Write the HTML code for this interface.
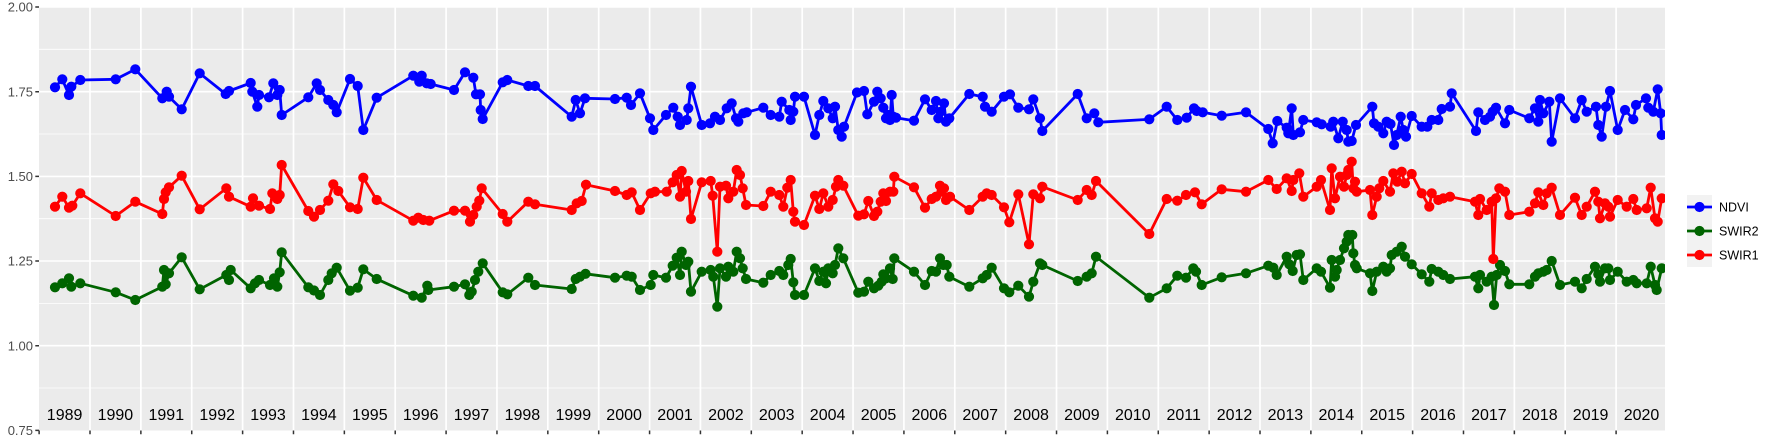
<!DOCTYPE html>
<html><head><meta charset="utf-8">
<style>
html,body{margin:0;padding:0;background:#fff;}
svg{display:block;}
text{font-family:"Liberation Sans",Arial,sans-serif;}
</style></head>
<body>
<svg width="1773" height="442" viewBox="0 0 1773 442" xmlns="http://www.w3.org/2000/svg">
<defs>
<clipPath id="pc"><rect x="39" y="6.5" width="1626" height="424"/></clipPath>
<marker id="mb" markerUnits="userSpaceOnUse" markerWidth="12" markerHeight="12" refX="6" refY="6" viewBox="0 0 12 12"><circle cx="6" cy="6" r="5.1" fill="#0000FF"/></marker>
<marker id="mr" markerUnits="userSpaceOnUse" markerWidth="12" markerHeight="12" refX="6" refY="6" viewBox="0 0 12 12"><circle cx="6" cy="6" r="5.1" fill="#FF0000"/></marker>
<marker id="mg" markerUnits="userSpaceOnUse" markerWidth="12" markerHeight="12" refX="6" refY="6" viewBox="0 0 12 12"><circle cx="6" cy="6" r="5.1" fill="#006400"/></marker>
</defs>
<rect x="0" y="0" width="1773" height="442" fill="#fff"/>
<rect x="39" y="6.5" width="1626" height="424" fill="#EBEBEB"/>
<!-- minor horizontal -->
<path d="M39 49.3H1665M39 134H1665M39 218.7H1665M39 303.4H1665M39 388H1665" stroke="#fff" stroke-width="0.8" fill="none"/>
<!-- major horizontal -->
<path d="M39 7H1665M39 91.7H1665M39 176.4H1665M39 261H1665M39 345.7H1665" stroke="#fff" stroke-width="1.6" fill="none"/>
<!-- vertical -->
<path d="M90 6.5V430.5M140.87 6.5V430.5M191.74 6.5V430.5M242.61 6.5V430.5M293.48 6.5V430.5M344.35 6.5V430.5M395.22 6.5V430.5M446.09 6.5V430.5M496.96 6.5V430.5M547.83 6.5V430.5M598.7 6.5V430.5M649.57 6.5V430.5M700.44 6.5V430.5M751.31 6.5V430.5M802.18 6.5V430.5M853.05 6.5V430.5M903.92 6.5V430.5M954.79 6.5V430.5M1005.66 6.5V430.5M1056.53 6.5V430.5M1107.4 6.5V430.5M1158.27 6.5V430.5M1209.14 6.5V430.5M1260.01 6.5V430.5M1310.88 6.5V430.5M1361.75 6.5V430.5M1412.62 6.5V430.5M1463.49 6.5V430.5M1514.36 6.5V430.5M1565.23 6.5V430.5M1616.1 6.5V430.5" stroke="#fff" stroke-width="1.7" fill="none"/>

<g clip-path="url(#pc)">
<g fill="none" stroke-width="2.8" stroke-linejoin="round" stroke-linecap="butt">
<polyline id="pb" stroke="#0000FF" points="55.0,87.3 62.3,79.3 69.0,95.0 71.3,86.7 80.3,80.0 115.7,79.3 135.3,69.3 162.3,98.3 166.7,91.7 169.0,96.7 181.7,109.3 199.7,73.3 225.7,94.0 229.0,91.0 250.7,83.0 252.3,91.7 257.3,106.7 259.0,95.0 269.0,97.3 273.3,83.3 277.3,95.0 279.7,90.0 281.7,115.0 308.3,97.3 316.7,83.3 320.0,90.0 328.3,100.0 333.3,105.0 336.7,112.3 350.0,79.0 357.7,86.0 363.3,130.0 376.7,97.7 413.3,75.7 419.3,81.7 421.7,75.7 426.7,83.3 430.7,84.0 454.0,90.0 465.0,72.3 473.3,77.7 476.0,94.3 480.0,94.3 480.7,110.0 482.7,119.0 502.7,82.3 507.3,80.0 528.3,86.0 535.0,86.0 571.7,116.7 575.7,100.0 580.0,113.3 585.0,98.3 615.0,99.0 626.7,97.7 631.0,105.0 640.0,93.3 650.0,118.3 653.3,130.0 666.0,115.0 673.3,107.7 677.7,116.7 680.0,125.0 686.7,120.0 688.3,108.3 691.0,86.7 701.7,125.0 710.0,123.3 715.0,116.7 720.0,120.0 726.7,108.3 731.7,103.3 736.0,118.3 738.3,121.7 743.3,113.3 746.7,112.3 763.3,107.7 770.7,115.0 779.3,116.7 781.7,101.7 789.3,110.0 790.7,120.0 793.3,111.7 795.0,96.7 804.0,96.7 815.0,135.0 819.3,115.0 823.3,101.0 828.3,108.3 832.7,118.3 835.0,106.7 838.3,130.0 841.7,136.7 844.0,126.7 857.0,92.5 864.0,91.0 867.3,114.3 874.0,101.7 877.3,91.7 880.7,98.3 883.3,107.7 886.0,118.3 888.3,115.0 890.0,120.0 891.7,95.0 893.3,116.7 896.0,117.7 914.0,120.7 925.0,99.3 931.7,110.0 936.0,101.0 938.3,118.3 940.7,111.7 944.0,103.3 946.0,121.7 949.3,118.3 969.3,94.0 982.7,96.7 985.0,106.7 991.7,111.7 1004.0,96.7 1010.0,94.3 1018.3,107.7 1029.0,109.3 1033.3,99.3 1040.0,118.3 1042.3,131.0 1077.7,94.0 1086.7,118.3 1094.3,113.3 1098.3,122.3 1149.3,119.3 1166.7,106.7 1177.3,120.0 1186.7,117.7 1194.0,108.3 1196.7,111.0 1202.7,112.3 1221.7,115.7 1246.0,112.3 1268.3,129.0 1272.7,143.3 1277.3,121.0 1286.7,127.7 1288.3,133.3 1291.7,108.3 1293.3,135.0 1300.0,132.3 1303.3,120.0 1316.7,122.3 1321.7,124.3 1330.7,126.7 1333.3,121.7 1338.3,138.3 1342.7,121.7 1346.7,130.0 1348.3,141.7 1351.7,141.0 1356.0,125.0 1372.3,106.7 1374.0,123.3 1378.3,126.7 1383.3,133.3 1386.7,121.7 1390.5,124.0 1394.0,145.0 1396.7,135.0 1400.7,116.7 1403.3,130.0 1406.0,136.7 1411.7,116.0 1421.7,126.7 1427.3,126.7 1431.7,120.0 1438.3,120.0 1441.7,109.0 1450.0,106.7 1451.7,93.3 1476.0,131.0 1478.3,112.3 1485.0,120.0 1490.0,116.7 1492.7,111.7 1496.0,107.7 1505.0,123.3 1509.3,110.0 1529.3,118.3 1535.0,108.3 1538.3,121.7 1540.0,100.0 1543.3,113.3 1549.3,101.7 1551.7,141.7 1560.0,98.3 1575.0,118.3 1581.7,100.0 1586.7,111.7 1596.0,106.7 1598.3,125.0 1601.7,136.7 1606.0,106.7 1610.0,91.0 1617.7,130.0 1625.0,110.0 1633.3,119.3 1636.0,105.0 1646.0,98.3 1648.3,107.7 1653.3,111.7 1657.7,89.3 1660.7,113.3 1661.7,135.0"/>
<polyline id="pg" stroke="#006400" points="55.0,287.3 62.3,283.3 69.0,278.3 71.3,286.7 80.3,283.3 115.7,292.3 135.3,300.0 162.3,286.7 164.0,270.0 165.7,284.3 169.0,273.3 181.7,257.3 199.7,289.3 226.3,275.0 229.0,280.0 230.7,270.0 250.7,288.3 255.0,283.3 259.0,280.0 270.0,285.0 274.0,278.3 277.3,286.7 279.7,272.3 281.7,252.3 308.3,287.3 314.0,290.5 320.0,295.0 328.3,280.0 331.7,273.3 336.7,267.7 350.0,290.7 357.7,287.7 363.3,269.3 376.7,279.0 413.3,295.7 421.7,297.7 427.3,285.7 428.3,290.0 454.0,286.7 465.0,284.3 469.3,295.0 471.7,291.7 475.0,280.0 478.3,271.7 482.7,263.3 502.7,292.3 507.3,294.3 528.3,277.7 535.0,285.0 571.7,289.0 575.7,279.0 580.0,276.7 585.5,273.8 615.0,277.7 626.7,275.7 631.7,276.7 640.0,290.0 650.7,285.0 653.3,275.0 666.0,277.7 672.7,265.7 676.7,257.7 680.0,275.0 681.7,251.7 686.0,265.0 688.3,261.7 691.0,291.7 701.7,271.7 710.7,270.0 713.3,276.7 717.3,306.7 720.0,268.3 726.0,276.7 728.3,266.7 733.3,271.7 736.7,251.7 740.0,258.3 742.7,268.3 746.0,279.0 763.3,282.7 770.7,275.0 779.3,271.0 783.3,275.0 788.3,265.0 790.7,259.0 793.3,282.3 795.0,295.0 804.0,295.0 815.0,268.3 819.3,281.0 823.3,271.7 826.0,283.3 828.3,268.3 832.7,273.3 835.0,265.0 838.3,248.3 843.3,258.3 858.3,292.7 864.0,291.7 868.3,281.7 874.0,288.3 878.3,285.7 881.7,281.7 883.3,274.3 886.0,278.3 890.0,268.3 892.7,279.0 894.3,258.3 914.0,271.7 925.0,285.0 931.7,271.0 936.0,271.7 940.0,258.3 943.3,265.0 946.7,265.0 949.3,276.7 969.3,286.7 982.7,278.3 986.7,275.0 991.7,267.7 1004.0,288.3 1009.3,292.3 1018.3,285.7 1029.0,296.7 1033.3,281.7 1040.0,263.3 1042.3,265.0 1077.7,281.0 1086.7,276.7 1091.7,273.3 1096.0,256.7 1149.3,297.7 1166.7,288.3 1177.3,275.7 1186.0,277.7 1193.3,268.3 1196.0,271.7 1201.7,285.0 1221.7,277.3 1246.0,273.3 1268.3,265.7 1273.3,267.7 1276.7,275.0 1286.7,256.7 1289.3,264.3 1292.7,271.0 1296.7,255.0 1300.0,254.3 1303.3,280.0 1316.7,268.3 1321.0,271.7 1330.0,287.7 1331.7,260.0 1335.0,276.7 1336.7,270.0 1340.0,260.0 1344.0,248.3 1346.7,241.7 1348.3,235.0 1352.3,235.0 1353.3,253.3 1355.0,265.0 1356.7,268.3 1370.0,273.3 1372.3,291.0 1376.7,271.7 1383.3,266.7 1386.7,271.7 1390.0,268.3 1391.7,255.0 1396.7,251.7 1401.7,246.7 1405.0,256.7 1411.7,264.3 1421.7,274.3 1429.3,281.7 1431.7,269.0 1438.3,271.7 1443.3,275.0 1450.0,279.0 1475.0,276.7 1478.3,288.3 1480.0,275.0 1486.7,281.7 1491.7,276.7 1494.0,305.0 1496.7,275.0 1500.0,265.0 1505.0,271.0 1509.3,284.3 1529.3,284.3 1535.0,276.7 1538.3,273.3 1543.3,271.7 1546.7,270.0 1551.7,261.0 1560.0,285.0 1575.0,281.7 1581.7,288.3 1586.7,279.0 1595.0,266.7 1598.3,274.3 1600.0,281.7 1605.0,268.3 1608.3,268.3 1610.0,280.0 1617.7,271.7 1626.7,281.7 1633.3,280.0 1636.7,283.3 1646.7,283.3 1650.7,266.7 1655.0,285.0 1656.7,290.0 1661.7,268.3"/>
<polyline id="pr" stroke="#FF0000" points="55.0,206.7 62.3,196.7 69.0,207.7 72.3,205.7 80.3,193.3 115.7,216.0 135.3,201.7 162.3,214.0 164.0,199.0 165.7,192.3 169.0,187.3 181.7,175.7 199.7,209.3 226.3,188.3 229.0,196.7 250.7,206.7 253.0,198.3 259.0,205.7 270.0,209.0 272.3,193.3 277.3,199.0 279.7,195.0 281.7,165.0 308.3,211.0 314.0,216.7 320.0,210.0 328.3,200.7 333.3,184.3 338.3,191.0 350.0,207.3 357.7,209.0 363.3,177.7 376.7,200.0 413.3,220.7 418.3,217.7 423.3,220.0 429.3,220.7 454.0,210.7 465.0,210.7 470.0,221.7 473.3,215.0 476.7,206.7 479.3,200.7 481.7,188.3 502.7,214.0 507.3,221.7 528.3,201.7 535.0,204.3 571.7,210.0 576.7,203.3 581.7,201.0 586.0,184.7 615.0,191.0 626.7,195.0 631.7,192.3 640.0,210.0 650.7,193.3 655.0,191.7 666.7,191.7 672.7,182.3 676.7,175.0 680.0,196.7 681.7,171.0 686.0,191.7 688.3,181.0 691.0,219.0 701.7,182.3 710.7,181.0 712.7,195.7 717.3,251.7 720.0,186.7 726.0,185.7 728.3,198.3 733.3,191.7 736.7,170.0 740.0,175.0 742.7,188.3 746.0,205.0 763.3,206.0 770.7,191.7 779.3,195.0 783.3,206.7 787.3,187.7 790.7,180.0 793.3,211.7 795.0,221.7 804.0,225.0 815.0,195.7 819.3,209.0 823.3,193.3 828.3,206.7 832.7,200.0 836.0,186.7 838.3,180.0 843.3,185.7 858.3,215.7 864.0,214.3 868.3,201.0 874.0,216.0 877.3,211.7 880.7,201.7 883.3,193.3 886.0,201.0 890.0,191.7 893.3,191.7 894.3,176.7 914.0,187.3 925.0,207.7 931.7,199.0 936.0,196.7 940.0,185.7 941.7,191.7 944.0,188.3 946.0,200.0 950.0,196.7 969.3,210.0 982.7,196.7 986.7,193.3 991.7,195.0 1004.0,207.3 1009.3,222.3 1018.3,194.3 1029.0,244.3 1033.3,194.3 1040.0,198.3 1042.3,186.7 1077.7,200.0 1086.7,190.0 1091.7,195.0 1096.0,181.0 1149.3,234.0 1166.7,199.0 1177.3,200.7 1186.0,195.0 1195.0,192.3 1201.7,204.3 1221.7,189.3 1246.0,191.7 1268.3,180.0 1276.7,189.0 1286.7,178.3 1291.7,191.0 1293.3,180.0 1299.3,173.3 1303.3,196.7 1316.7,186.7 1321.0,180.0 1330.0,210.0 1331.7,168.3 1335.0,198.3 1340.0,176.7 1344.0,186.7 1346.7,175.0 1348.3,170.0 1351.7,161.7 1353.3,188.3 1355.0,181.7 1356.7,191.7 1370.0,190.0 1372.3,215.0 1376.7,196.7 1379.3,188.3 1383.3,181.0 1390.0,191.7 1393.3,173.3 1397.3,181.7 1401.7,171.7 1405.0,183.3 1411.7,174.0 1421.7,193.3 1429.3,206.7 1431.7,193.3 1438.3,200.0 1443.3,198.3 1450.0,196.7 1475.0,201.7 1478.3,215.0 1480.0,199.0 1486.7,210.0 1491.7,201.7 1493.3,259.0 1496.0,198.3 1499.3,188.3 1505.0,191.7 1509.3,215.0 1529.3,211.7 1535.0,203.3 1538.3,192.3 1543.3,205.0 1546.7,193.3 1551.7,187.7 1560.0,215.0 1575.0,197.7 1581.7,215.0 1586.7,206.7 1595.0,191.7 1598.3,201.7 1600.0,218.3 1605.0,203.3 1608.3,206.7 1610.0,216.7 1617.7,200.0 1626.7,206.7 1633.3,199.0 1636.7,210.0 1646.7,208.3 1650.7,187.7 1655.0,218.3 1657.7,221.7 1661.7,198.3"/>
</g>
<g fill="none" stroke="none">
<use href="#pb" stroke="none" marker-start="url(#mb)" marker-mid="url(#mb)" marker-end="url(#mb)"/>
<use href="#pg" stroke="none" marker-start="url(#mg)" marker-mid="url(#mg)" marker-end="url(#mg)"/>
<use href="#pr" stroke="none" marker-start="url(#mr)" marker-mid="url(#mr)" marker-end="url(#mr)"/>
</g>
</g>

<!-- year labels -->
<g font-size="16" fill="#000" text-anchor="middle">
<text x="64.6" y="420">1989</text><text x="115.4" y="420">1990</text><text x="166.3" y="420">1991</text><text x="217.2" y="420">1992</text><text x="268.0" y="420">1993</text><text x="318.9" y="420">1994</text><text x="369.8" y="420">1995</text><text x="420.7" y="420">1996</text><text x="471.5" y="420">1997</text><text x="522.4" y="420">1998</text><text x="573.3" y="420">1999</text><text x="624.1" y="420">2000</text><text x="675.0" y="420">2001</text><text x="725.9" y="420">2002</text><text x="776.7" y="420">2003</text><text x="827.6" y="420">2004</text><text x="878.5" y="420">2005</text><text x="929.3" y="420">2006</text><text x="980.2" y="420">2007</text><text x="1031.1" y="420">2008</text><text x="1081.9" y="420">2009</text><text x="1132.8" y="420">2010</text><text x="1183.7" y="420">2011</text><text x="1234.5" y="420">2012</text><text x="1285.4" y="420">2013</text><text x="1336.3" y="420">2014</text><text x="1387.2" y="420">2015</text><text x="1438.0" y="420">2016</text><text x="1488.9" y="420">2017</text><text x="1539.8" y="420">2018</text><text x="1590.6" y="420">2019</text><text x="1641.5" y="420">2020</text>
</g>

<!-- y axis -->
<path d="M35.3 7H39M35.3 91.7H39M35.3 176.4H39M35.3 261H39M35.3 345.7H39M35.3 430.4H39" stroke="#333" stroke-width="1.5"/>
<g font-size="13" fill="#4D4D4D" text-anchor="end">
<text x="33" y="11.6">2.00</text>
<text x="33" y="96.3">1.75</text>
<text x="33" y="181">1.50</text>
<text x="33" y="265.6">1.25</text>
<text x="33" y="350.3">1.00</text>
<text x="33" y="435">0.75</text>
</g>
<!-- x ticks -->
<path d="M39.13 430.5V434.3M90 430.5V434.3M140.87 430.5V434.3M191.74 430.5V434.3M242.61 430.5V434.3M293.48 430.5V434.3M344.35 430.5V434.3M395.22 430.5V434.3M446.09 430.5V434.3M496.96 430.5V434.3M547.83 430.5V434.3M598.7 430.5V434.3M649.57 430.5V434.3M700.44 430.5V434.3M751.31 430.5V434.3M802.18 430.5V434.3M853.05 430.5V434.3M903.92 430.5V434.3M954.79 430.5V434.3M1005.66 430.5V434.3M1056.53 430.5V434.3M1107.4 430.5V434.3M1158.27 430.5V434.3M1209.14 430.5V434.3M1260.01 430.5V434.3M1310.88 430.5V434.3M1361.75 430.5V434.3M1412.62 430.5V434.3M1463.49 430.5V434.3M1514.36 430.5V434.3M1565.23 430.5V434.3M1616.1 430.5V434.3" stroke="#333" stroke-width="1.5"/>

<!-- legend -->
<rect x="1687" y="195" width="25" height="72" fill="#F2F2F2"/>
<g stroke-width="2.8">
<line x1="1687" y1="207" x2="1712" y2="207" stroke="#0000FF"/>
<line x1="1687" y1="231" x2="1712" y2="231" stroke="#006400"/>
<line x1="1687" y1="255" x2="1712" y2="255" stroke="#FF0000"/>
</g>
<circle cx="1699.5" cy="207" r="5.1" fill="#0000FF"/>
<circle cx="1699.5" cy="231" r="5.1" fill="#006400"/>
<circle cx="1699.5" cy="255" r="5.1" fill="#FF0000"/>
<g font-size="12.5" fill="#000">
<text x="1719" y="211.5">NDVI</text>
<text x="1719" y="235.5">SWIR2</text>
<text x="1719" y="259.5">SWIR1</text>
</g>
</svg>
</body></html>
